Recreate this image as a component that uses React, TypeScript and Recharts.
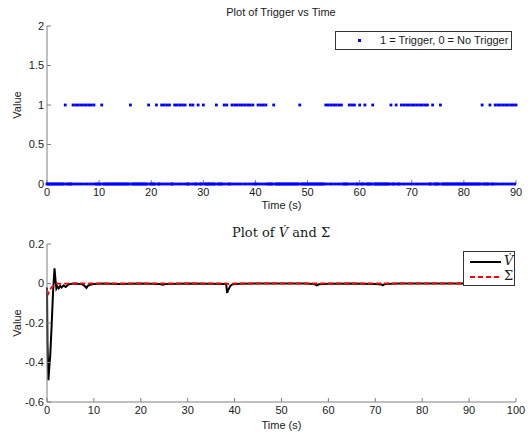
import { ScatterChart, Scatter, LineChart, Line, XAxis, YAxis, Label } from 'recharts'

// trigger signal, one character per sample (0.25 s apart, 0..90 s)
const triggerStep = 0.25
const triggerSamples =
  '00000000000000100000' + '10101010101010101000' + '00100000000000000000' +
  '00001000000000000010' + '00001000101010100010' + '10101010001010001000' +
  '10000000001000001010' + '00101010101010101010' + '00101010100000100000' +
  '00000000000000100000' + '00000000000000101010' + '10101010000010101000' +
  '10001000001000000000' + '00001000100010101010' + '10101010101010001000' +
  '00100000000000000000' + '00000000000000100000' + '10001010101010101010' + '1'
const triggerXTicks = [0, 10, 20, 30, 40, 50, 60, 70, 80, 90]
const triggerYTicks = [0, 0.5, 1, 1.5, 2]

// V dot
const vTimes = [0, 0.1, 0.3, 0.5, 0.7, 0.9, 1.1, 1.3, 1.6, 1.8, 2.0, 2.2, 2.5, 2.8, 3.1, 3.5, 4.0, 4.5, 5.0, 6, 7.5, 8.0, 8.4, 8.7, 9.0, 9.5, 10, 12, 15, 20, 24, 24.7, 25.5, 30, 35, 38.2, 38.4, 38.7, 39.1, 39.6, 41, 45, 50, 55, 57, 57.5, 58, 60, 65, 70, 71.3, 71.6, 72, 75, 80, 85, 90]
const vValues = [-0.02, -0.3, -0.49, -0.42, -0.36, -0.26, -0.15, -0.04, 0.077, 0.02, -0.025, -0.015, -0.025, -0.012, -0.02, -0.01, -0.018, -0.006, -0.002, 0, -0.004, -0.012, -0.022, -0.012, -0.008, -0.005, -0.002, 0, -0.002, 0, -0.003, -0.006, -0.002, 0, -0.001, -0.002, -0.047, -0.03, -0.012, -0.004, -0.001, 0, 0, 0, -0.003, -0.009, -0.004, -0.001, 0, -0.002, -0.005, -0.009, -0.003, 0, 0, 0, 0]

// Sigma
const sigmaTimes = [0, 0.3, 0.6, 1.0, 1.4, 1.8, 2.2, 3, 5, 10, 20, 38.2, 38.8, 40, 60, 90]
const sigmaValues = [-0.035, -0.05, -0.03, -0.02, -0.01, -0.005, 0, -0.002, 0, 0, 0, 0, -0.003, 0, 0, 0]

const errXTicks = [0, 10, 20, 30, 40, 50, 60, 70, 80, 90, 100]
const errYTicks = [-0.6, -0.4, -0.2, 0, 0.2]

const triggerData = triggerSamples.split('').map((c, i) => ({ t: i * triggerStep, v: Number(c) }))
const vData = vTimes.map((t, i) => ({ t, y: vValues[i] }))
const sigmaData = sigmaTimes.map((t, i) => ({ t, y: sigmaValues[i] }))

const sans = '"Liberation Sans", Arial, sans-serif'
const serif = '"DejaVu Serif", "Liberation Serif", serif'
const frame = '#808080'
const textCol = '#1a1a1a'
const tickFont = { fill: textCol, fontSize: 11, fontFamily: sans }

const BlueDot = (props: any) => (
  <rect x={props.cx - 1.4} y={props.cy - 1.4} width={2.8} height={2.8} fill="#0000ff" />
)

const valueLabel = (props: any) => {
  const vb = props.viewBox
  const x = vb.x + 17
  const y = vb.y + vb.height / 2
  return (
    <text x={x} y={y} transform={`rotate(-90 ${x} ${y})`} textAnchor="middle" dominantBaseline="central"
      fontSize={11} fontFamily={sans} fill={textCol}>
      Value
    </text>
  )
}

export default function App() {
  return (
    <div style={{ position: 'absolute', left: 0, top: 0, width: 532, height: 433, background: '#fff', fontFamily: sans }}>
      <div style={{ position: 'absolute', left: 181, width: 200, top: 6, textAlign: 'center', fontSize: 11, color: textCol }}>
        Plot of Trigger vs Time
      </div>
      <div style={{ position: 'absolute', top: 0, left: 0 }}>
        <ScatterChart width={532} height={215} margin={{ top: 26, right: 16, bottom: 0, left: 0 }}>
          <XAxis xAxisId="b" dataKey="t" type="number" domain={[0, 90]} ticks={triggerXTicks} interval={0}
            tickSize={-4} tickMargin={8} height={31} stroke={frame} tick={tickFont}>
            <Label value="Time (s)" position="insideBottom" offset={6} fontSize={11} fontFamily={sans} fill={textCol} />
          </XAxis>
          <XAxis xAxisId="t" orientation="top" dataKey="t" type="number" domain={[0, 90]} ticks={triggerXTicks}
            interval={0} tickSize={-4} height={0} stroke={frame} tick={false} />
          <YAxis yAxisId="l" dataKey="v" type="number" domain={[0, 2]} ticks={triggerYTicks} interval={0}
            tickSize={-4} tickMargin={7} width={47} stroke={frame} tick={tickFont}>
            <Label content={valueLabel} />
          </YAxis>
          <YAxis yAxisId="r" orientation="right" dataKey="v" type="number" domain={[0, 2]} ticks={triggerYTicks}
            interval={0} tickSize={-4} width={0} stroke={frame} tick={false} />
          <Scatter xAxisId="b" yAxisId="l" data={triggerData} shape={BlueDot} isAnimationActive={false} />
        </ScatterChart>
      </div>
      <div style={{ position: 'absolute', left: 335, top: 31, width: 175, height: 17, border: `1px solid #333`, background: '#fff', fontSize: 11, color: textCol }}>
        <div style={{ position: 'absolute', left: 22, top: 7, width: 2.5, height: 2.5, background: '#0000ff' }} />
        <div style={{ position: 'absolute', left: 44, top: 2, whiteSpace: 'nowrap' }}>1 = Trigger, 0 = No Trigger</div>
      </div>

      <div style={{ position: 'absolute', left: 181, width: 200, top: 225, textAlign: 'center', fontSize: 13, fontFamily: serif, color: textCol, whiteSpace: 'nowrap' }}>
        Plot of <i>V&#x307;</i> and &Sigma;
      </div>
      <div style={{ position: 'absolute', top: 220, left: 0 }}>
        <LineChart width={532} height={213} margin={{ top: 24, right: 16, bottom: 0, left: 0 }}>
          <XAxis xAxisId="b" dataKey="t" type="number" domain={[0, 100]} ticks={errXTicks} interval={0}
            tickSize={-4} tickMargin={8} height={31} stroke={frame} tick={tickFont}>
            <Label value="Time (s)" position="insideBottom" offset={4} fontSize={11} fontFamily={sans} fill={textCol} />
          </XAxis>
          <XAxis xAxisId="t" orientation="top" dataKey="t" type="number" domain={[0, 100]} ticks={errXTicks}
            interval={0} tickSize={-4} height={0} stroke={frame} tick={false} />
          <YAxis yAxisId="l" dataKey="y" type="number" domain={[-0.6, 0.2]} ticks={errYTicks} interval={0}
            tickSize={-4} tickMargin={7} width={47} stroke={frame} tick={tickFont}>
            <Label content={valueLabel} />
          </YAxis>
          <YAxis yAxisId="r" orientation="right" dataKey="y" type="number" domain={[-0.6, 0.2]} ticks={errYTicks}
            interval={0} tickSize={-4} width={0} stroke={frame} tick={false} />
          <Line xAxisId="b" yAxisId="l" data={vData} dataKey="y" stroke="#000" strokeWidth={2} dot={false}
            type="linear" isAnimationActive={false} />
          <Line xAxisId="b" yAxisId="l" data={sigmaData} dataKey="y" stroke="#ff0000" strokeWidth={1.8}
            strokeDasharray="5 3" dot={false} type="linear" isAnimationActive={false} />
        </LineChart>
      </div>
      <div style={{ position: 'absolute', left: 463, top: 251, width: 50, height: 33, border: '1px solid #333', background: '#fff', fontFamily: serif, fontSize: 13, color: textCol }}>
        <svg width={40} height={33} style={{ position: 'absolute', left: 0, top: 0 }}>
          <line x1={6} x2={37} y1={10} y2={10} stroke="#000" strokeWidth={2} />
          <line x1={6} x2={37} y1={25} y2={25} stroke="#ff0000" strokeWidth={1.8} strokeDasharray="5 3" />
        </svg>
        <div style={{ position: 'absolute', left: 40, top: 1 }}><i>V&#x307;</i></div>
        <div style={{ position: 'absolute', left: 40, top: 16 }}>&Sigma;</div>
      </div>
    </div>
  )
}
